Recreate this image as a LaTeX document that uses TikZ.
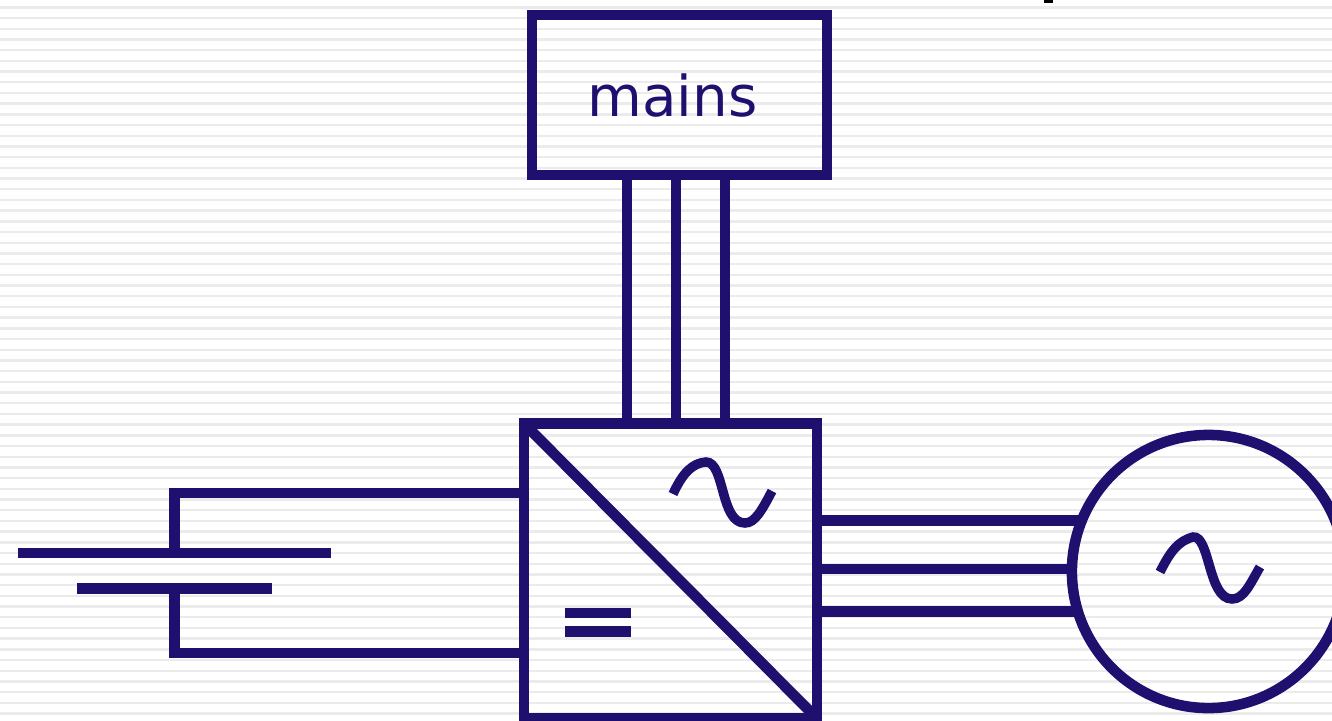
\documentclass[tikz,border=0pt]{standalone}
\usepackage{fontspec}
\setsansfont{DejaVu Sans}
\definecolor{wire}{HTML}{1F0F6E}
\definecolor{stripe}{HTML}{EBEBEB}
\tikzset{
  block/.style={draw=wire, line width=3pt, inner sep=0pt, outer sep=0pt},
  plate/.style={fill=wire, inner sep=0pt, outer sep=0pt, minimum height=3pt},
  lead/.style={draw=wire, line width=3pt},
  feed/.style={draw=wire, line width=2.8pt},
  wave/.style={draw=wire, line width=2.7pt}
}

\begin{document}
\begin{tikzpicture}[x=0.01cm, y=-0.01cm]
  \useasboundingbox (0, 0) rectangle (1332, 720);
  \clip (0, 0) rectangle (1332, 720);
  \foreach \row in {0,...,66}
    \fill[stripe] (0, {7.3+10.7*\row-1.2}) rectangle (1332, {7.3+10.7*\row+1.2});
  \fill[black] (1044, 0) rectangle (1053, 3);

  \node at (679.5, 95) (mains) [block, rectangle, minimum width=2.95cm, minimum height=1.6cm]{};
  \node at (672.5, 96) (mainslabel) [text=wire, font=\sffamily\fontsize{16}{16}\selectfont]{mains};
  \node at (670.5, 571) (conv) [block, rectangle, minimum width=2.93cm, minimum height=2.95cm]{};
  \node at (1208.5, 571.5) (motor) [block, circle, minimum size=2.73cm]{};
  \node at (174.5, 553) (plateA) [plate, minimum width=3.13cm]{};
  \node at (174.5, 588.5) (plateB) [plate, minimum width=1.95cm]{};

  \coordinate (feedA) at (627, 0);
  \coordinate (feedB) at (676, 0);
  \coordinate (feedC) at (725, 0);
  \draw[feed] (feedA |- mains.south) -- (feedA |- conv.north);
  \draw[feed] (feedB |- mains.south) -- (feedB |- conv.north);
  \draw[feed] (feedC |- mains.south) -- (feedC |- conv.north);

  \coordinate (tapA) at (0, 493);
  \coordinate (tapB) at (0, 653);
  \draw[lead] (conv.west |- tapA) -| (plateA);
  \draw[lead] (conv.west |- tapB) -| (plateB);

  \draw[lead] (conv.east |- motor.158.3) -- (motor.158.3);
  \draw[lead] (conv.east |- motor.179) -- (motor.179);
  \draw[lead] (conv.east |- motor.197.7) -- (motor.197.7);

  \draw[lead] (conv.north west) -- (conv.south east);
  \fill[wire] (565, 608) rectangle (631, 618);
  \fill[wire] (565, 626) rectangle (631, 637);

  \draw[wave] (673, 494) .. controls (683, 472) and (693, 463) .. (706, 462)
    .. controls (725, 462) and (720, 523) .. (745, 523)
    .. controls (755, 523) and (762, 510) .. (772, 491);
  \draw[wave] (1160, 572) .. controls (1170, 552) and (1178, 541) .. (1193, 537)
    .. controls (1210, 535) and (1208, 599) .. (1232, 599)
    .. controls (1244, 599) and (1250, 584) .. (1260, 567);
\end{tikzpicture}
\end{document}
